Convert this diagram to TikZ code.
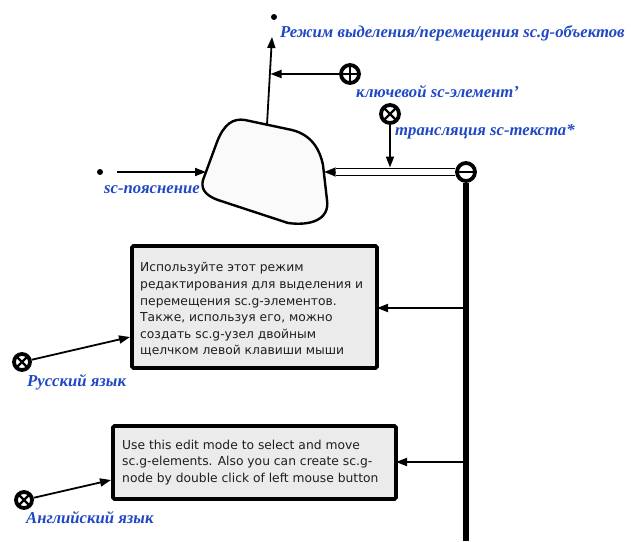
\documentclass[tikz,border=0pt]{standalone}
\usepackage{fontspec}
\setmainfont{Liberation Serif}
\newfontfamily\notefont{DejaVu Sans}
\usetikzlibrary{arrows.meta}
\definecolor{lblblue}{RGB}{32,72,196}
\definecolor{notefill}{RGB}{235,235,235}
\definecolor{blobfill}{RGB}{250,250,250}
\definecolor{notetext}{RGB}{30,30,30}
\begin{document}
\begin{tikzpicture}[x=1pt,y=-1pt,
  conn/.style={line width=1.8, -{Triangle[length=11,width=8]}},
  lbl/.style={font=\bfseries\itshape\fontsize{16.7}{18}\selectfont, text=lblblue,
    anchor=base west, inner sep=0},
  dotnode/.style={circle, fill=black, inner sep=0, minimum size=6, outer sep=0},
  sccircle/.style={circle, draw=black, line width=3.8, minimum size=18, inner sep=0,
    outer sep=1.9},
  plusnode/.style={sccircle, path picture={
    \draw[line width=2.2] (path picture bounding box.north) -- (path picture bounding box.south)
      (path picture bounding box.west) -- (path picture bounding box.east);}},
  crossnode/.style={sccircle, path picture={
    \draw[line width=2.2] (path picture bounding box.north west) -- (path picture bounding box.south east)
      (path picture bounding box.north east) -- (path picture bounding box.south west);}},
  minusnode/.style={sccircle, path picture={
    \draw[line width=2.6] (path picture bounding box.west) -- (path picture bounding box.east);}},
  notebox/.style={draw=black, line width=3.8, fill=notefill, rounded corners=1.5,
    inner sep=0, outer sep=0, anchor=north west},
  notetxt/.style={font=\notefont\fontsize{12.3}{16.6}\selectfont, text=notetext,
    align=left, anchor=west, inner sep=0},
]
\useasboundingbox (0,0) rectangle (631,541);

% sc-structure contour
\draw[line width=2.4, fill=blobfill]
  (203,180) -- (217,142) .. controls (224,124) and (233,118) .. (245,120)
  -- (292,130) .. controls (312,135) and (320,150) .. (323,165)
  -- (327,200) .. controls (330,220) and (310,226) .. (288,223)
  -- (218,200) .. controls (204,195) and (201,188) .. (203,180) -- cycle;
\coordinate (blobtop) at (267,124.5);
\coordinate (blobleft) at (206,172);
\coordinate (blobright) at (324.5,172);

% top: edit mode node
\node[dotnode] (mode) at (274,17) {};
\node[lbl] (modelbl) at (280,37) {Режим выделения/перемещения sc.g-объектов};
\coordinate (modetip) at (272,37);
\draw[conn] (blobtop) -- (modetip);
\coordinate (keyjoin) at (270.5,74);

% key element
\node[plusnode] (key) at (350,74) {};
\node[lbl] (keylbl) at (356,97) {ключевой sc-элемент'};
\draw[conn] (key) -- (keyjoin);

% explanation
\node[dotnode] (expl) at (100,172) {};
\node[lbl] (expllbl) at (104,193) {sc-пояснение};
\coordinate (explstart) at (117,172);
\draw[conn] (explstart) -- (blobleft);

% translation arc
\node[minusnode] (trans) at (466,172) {};
\coordinate (dblend) at (336,172);
\draw[line width=1.5, double=white, double distance=5.5] (trans.west) -- (dblend);
\draw[line width=0.1, -{Triangle[length=11,width=9]}] (dblend) -- (blobright);
\node[crossnode] (transrel) at (390,114) {};
\node[lbl] (translbl) at (395,135) {трансляция sc-текста*};
\coordinate (dblmid) at (390,167.5);
\draw[conn] (transrel) -- (dblmid);

% vertical bus
\coordinate (busend) at (466,541);
\draw[line width=6.5] (trans.south) -- (busend);

% Russian note
\node[notebox, minimum width=245, minimum height=122] (ru) at (132,246) {};
\node[notetxt] (rutxt) at (140,309.5) {Используйте этот режим\\
редактирования для выделения и\\
перемещения sc.g-элементов.\\
Также, используя его, можно\\
создать sc.g-узел двойным\\
щелчком левой клавиши мыши};
\coordinate (rubus) at (463,308);
\draw[conn] (rubus) -- (ru.east |- rubus);
\node[crossnode, minimum size=16] (rulang) at (22,362) {};
\node[lbl] (rulanglbl) at (27,386) {Русский язык};
\coordinate (ruarr) at (130,337);
\draw[conn] (rulang) -- (ruarr);

% English note
\node[notebox, minimum width=283, minimum height=73] (en) at (113,426) {};
\node[notetxt] (entxt) at (122,462.5) {Use this edit mode to select and move\\
sc.g-elements. Also you can create sc.g-\\
node by double click of left mouse button};
\coordinate (enbus) at (463,462);
\draw[conn] (enbus) -- (en.east |- enbus);
\node[crossnode, minimum size=16] (enlang) at (24,500) {};
\node[lbl] (enlanglbl) at (26,523) {Английский язык};
\coordinate (enarr) at (111,480);
\draw[conn] (enlang) -- (enarr);
\end{tikzpicture}
\end{document}
